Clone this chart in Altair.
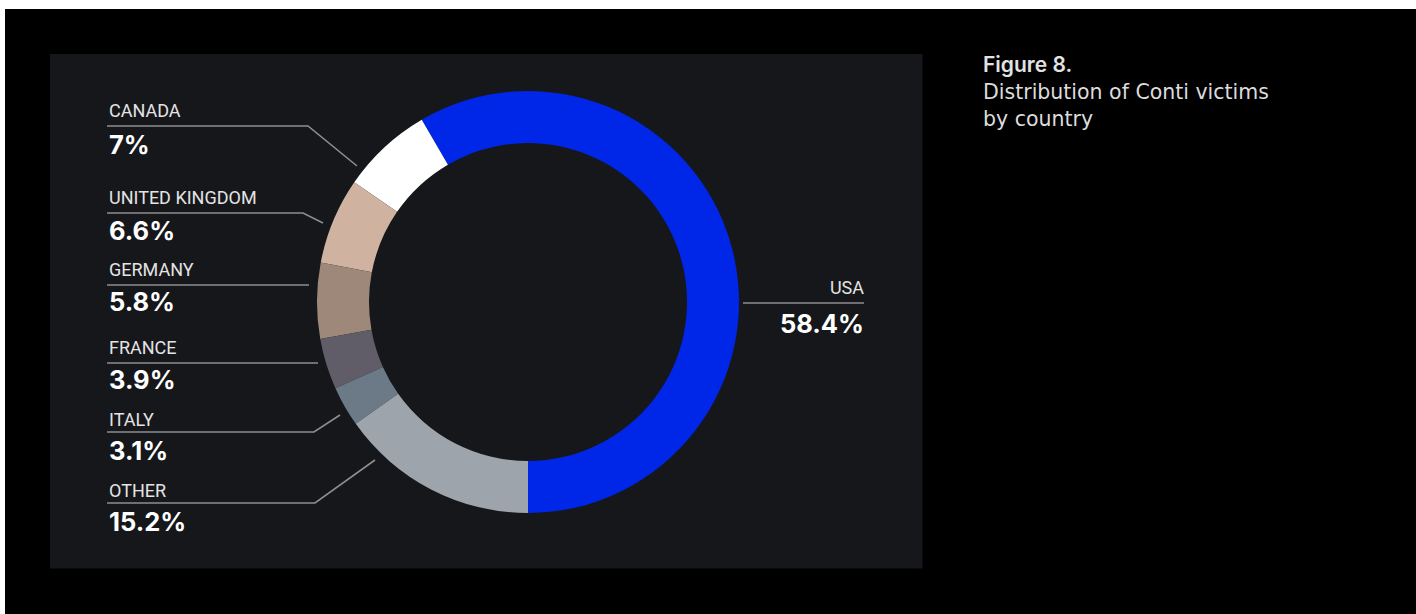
import math
import pandas as pd
import altair as alt

# ---- data ----
countries = ["USA", "Canada", "United Kingdom", "Germany", "France", "Italy", "Other"]
shares = [58.4, 7.0, 6.6, 5.8, 3.9, 3.1, 15.2]
share_text = ["58.4%", "7%", "6.6%", "5.8%", "3.9%", "3.1%", "15.2%"]
label_text = ["USA", "CANADA", "UNITED KINGDOM", "GERMANY", "FRANCE", "ITALY", "OTHER"]
slice_colors = ["#0026e8", "#ffffff", "#cfb2a0", "#9e8879", "#605c68", "#6b7a86", "#9ea4ab"]
# clockwise drawing order starting at 6 o'clock
stack_order = [7, 6, 5, 4, 3, 2, 1]

title_head = "Figure 8."
title_body = ["Distribution of Conti victims", "by country"]

# ---- layout (annotation geometry, pixel coords) ----
W, H = 1416, 614
CX, CY = 528, 302
label_x = [864, 109, 109, 109, 109, 109, 109]
label_align = ["right", "left", "left", "left", "left", "left", "left"]
label_base = [294, 117, 204, 276, 354, 426, 497]
value_base = [333, 154, 239.5, 310.5, 389, 460, 531]
leaders = [
    [(743, 303), (864, 303)],
    [(107, 126), (308, 126), (357, 166)],
    [(107, 213), (303, 213), (323, 223)],
    [(107, 285), (309, 285)],
    [(107, 363), (318, 363)],
    [(107, 432), (314, 432), (340, 415)],
    [(107, 503), (315, 503), (375, 460)],
]

pie = pd.DataFrame({"country": countries, "share": shares, "seq": stack_order})
labels = pd.DataFrame({
    "country": countries, "label": label_text, "value": share_text,
    "tx": label_x, "align": label_align, "ly": label_base, "vy": value_base,
})
lead_rows = []
for i, pts in enumerate(leaders):
    for j, (px, py) in enumerate(pts):
        lead_rows.append({"id": i, "k": j, "px": px, "py": py})
lead = pd.DataFrame(lead_rows)

frames = pd.DataFrame({
    "x0": [0, 0, 50], "x1": [W, 5, 922.5],
    "y0": [0, 0, 54], "y1": [9, H, 568.5],
    "fill": ["#ffffff", "#ffffff", "#16171b"],
})
head_df = pd.DataFrame({"t": [title_head], "tx": [983], "ty": [71.5]})
body_df = pd.DataFrame({"t": title_body, "tx": [983, 983], "ty": [98.5, 125.5]})

xs = alt.Scale(domain=[0, W], range=[0, W], nice=False, zero=False)
ys = alt.Scale(domain=[0, H], range=[0, H], nice=False, zero=False)

rects = alt.Chart(frames).mark_rect(stroke=None).encode(
    x=alt.X("x0:Q", scale=xs, axis=None), x2="x1:Q",
    y=alt.Y("y0:Q", scale=ys, axis=None), y2="y1:Q",
    fill=alt.Fill("fill:N", scale=None),
)

arcs = alt.Chart(pie).mark_arc(innerRadius=159, outerRadius=211, stroke=None).encode(
    theta=alt.Theta("share:Q", stack=True, scale=alt.Scale(range=[math.pi, 3 * math.pi])),
    color=alt.Color("country:N", scale=alt.Scale(domain=countries, range=slice_colors), legend=None),
    order=alt.Order("seq:Q"),
    x=alt.value(CX), y=alt.value(CY),
)

lines = alt.Chart(lead).mark_line(color="#8e8e90", strokeWidth=1.6).encode(
    x=alt.X("px:Q", scale=xs, axis=None),
    y=alt.Y("py:Q", scale=ys, axis=None),
    detail="id:N", order="k:Q",
)

def text_layer(align):
    d = labels[labels["align"] == align]
    base = alt.Chart(d)
    lab = base.mark_text(align=align, baseline="alphabetic", font="Roboto", fontSize=18,
                         color="#e4e4e4").encode(
        x=alt.X("tx:Q", scale=xs, axis=None), y=alt.Y("ly:Q", scale=ys, axis=None), text="label:N")
    val = base.mark_text(align=align, baseline="alphabetic", font="Inter", fontSize=25.5,
                         fontWeight="bold", color="#ffffff").encode(
        x=alt.X("tx:Q", scale=xs, axis=None), y=alt.Y("vy:Q", scale=ys, axis=None), text="value:N")
    return lab + val

head_layer = alt.Chart(head_df).mark_text(align="left", baseline="alphabetic", font="Inter",
                                          fontSize=21, fontWeight=600, color="#e2e2e2").encode(
    x=alt.X("tx:Q", scale=xs, axis=None), y=alt.Y("ty:Q", scale=ys, axis=None), text="t:N",
)
body_layer = alt.Chart(body_df).mark_text(align="left", baseline="alphabetic", font="DejaVu Sans",
                                          fontSize=20.5, color="#dcdcdc").encode(
    x=alt.X("tx:Q", scale=xs, axis=None), y=alt.Y("ty:Q", scale=ys, axis=None), text="t:N",
)

chart = alt.layer(rects, arcs, lines, text_layer("left"), text_layer("right"),
                  head_layer, body_layer).properties(
    width=W, height=H, padding=0, autosize=alt.AutoSizeParams(type="none"), background="#000000",
).configure_view(stroke=None)

chart.save("out.html", embed_options={"renderer": "svg", "actions": False})
